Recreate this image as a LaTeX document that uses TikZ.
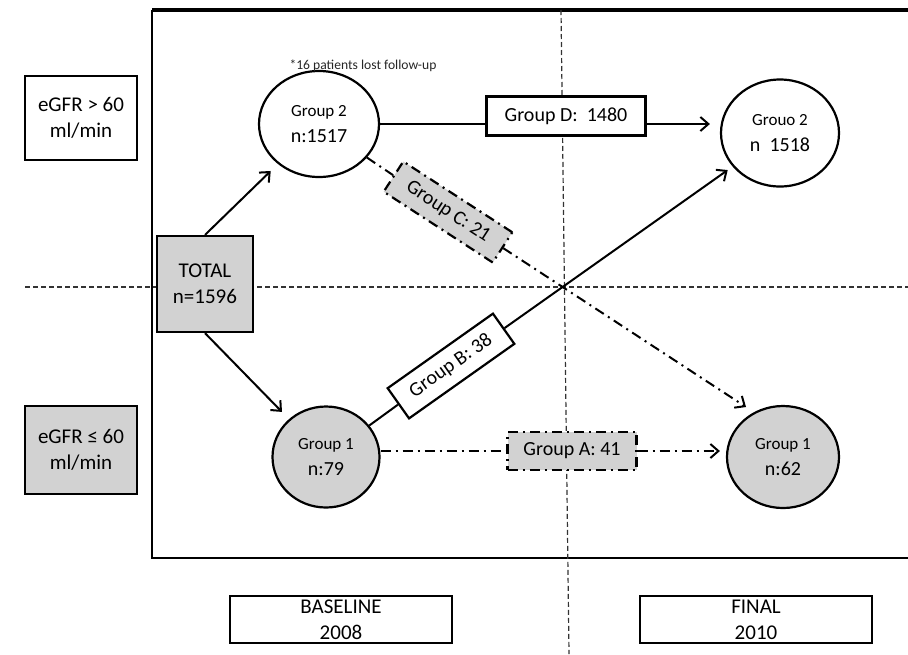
\documentclass[tikz,border=0pt]{standalone}
\usepackage{fontspec}
\setmainfont{Carlito}
\usetikzlibrary{positioning,arrows.meta,shapes.geometric}

\newcommand\grpname{\fontsize{8.5}{10}\selectfont}
\newcommand\grpcount{\fontsize{10}{12}\selectfont}

\tikzset{
  box/.style={draw, line width=1.1pt, align=center, inner sep=0pt, font=\fontsize{10.5}{13}\selectfont},
  flowbox/.style={box, font=\fontsize{10}{12}\selectfont},
  dashbox/.style={flowbox, fill=gray!35, dash pattern=on 5pt off 2.5pt on 1pt off 2.5pt},
  group/.style={draw, ellipse, line width=1.1pt, align=center, inner sep=0pt},
  link/.style={line width=1pt},
  dlink/.style={link, dash pattern=on 5pt off 2.5pt on 1pt off 2.5pt},
  guide/.style={line width=0.6pt, gray!40!black, dash pattern=on 2.5pt off 1.5pt},
}

\begin{document}
\begin{tikzpicture}[x=0.5pt, y=-0.5pt, >={Straight Barb[length=4pt,width=7pt]}]
    \useasboundingbox (0,0) rectangle (908,654);

    % Frame and guide lines
    \draw[line width=1.6pt] (908,10) -- (152,10);
    \draw[line width=1.2pt] (152,10) -- (152,558) -- (908,558);
    \draw[guide] (25,287) -- (908,287);
    \draw[guide] (561,10) -- (569,654);

    % Row and column labels
    \node[box, minimum width=56pt, minimum height=42pt] (high) at (81,118) {eGFR > 60\\ml/min};
    \node[box, fill=gray!35, minimum width=56pt, minimum height=44pt] (low) at (81,450) {eGFR ≤ 60\\ml/min};
    \node[box, minimum width=111pt, minimum height=23.5pt] (base) at (341,619.5) {BASELINE\\2008};
    \node[box, minimum width=116pt, minimum height=23.5pt] (final) at (756,619.5) {FINAL\\2010};

    % Groups
    \node[box, fill=gray!35, minimum width=48pt, minimum height=48pt] (total) at (205,284) {TOTAL\\n=1596};
    \node[group, minimum width=60pt, minimum height=53pt] (g2a) at (319,124)
        {{\grpname Group 2}\\[1pt]{\grpcount n:1517}};
    \node[group, minimum width=59pt, minimum height=53.5pt] (g2b) at (780,133)
        {{\grpname Grouo 2}\\[1pt]{\grpcount n\ \ 1518}};
    \node[group, fill=gray!35, minimum width=53.5pt, minimum height=50.5pt] (g1a) at (326,457)
        {{\grpname Group 1}\\[1pt]{\grpcount n:79}};
    \node[group, fill=gray!35, minimum width=56pt, minimum height=51pt] (g1b) at (783,457)
        {{\grpname Group 1}\\[1pt]{\grpcount n:62}};
    \node[font=\fontsize{6.8}{8}\selectfont, gray!30!black] (lost) at (363,66) {*16 patients lost follow-up};

    % Transitions
    \node[flowbox, fill=white, minimum width=79.5pt, minimum height=19.5pt] (grpD) at (566,116) {Group D:\ \ 1480};
    \node[flowbox, fill=white, minimum width=64.5pt, minimum height=18.5pt, rotate=35.3] (grpB) at (451,366) {Group B: 38};
    \node[dashbox, minimum width=65pt, minimum height=18pt, rotate=-33] (grpC) at (448,212) {Group C: 21};
    \node[dashbox, minimum width=64.5pt, minimum height=19pt] (grpA) at (572,451) {Group A: 41};
    \coordinate (cEnd) at (746,407);

    \draw[link, ->, shorten >=5pt] (total.north) -- (g2a);
    \draw[link, ->, shorten >=5pt] (total.south) -- (g1a);
    \draw[link] (g2a.east) -- (g2a.east -| grpD.west);
    \draw[link, ->, shorten >=5pt] (grpD.east |- g2a.east) -- (g2b.west |- g2a.east);
    \draw[link] (g1a) -- (grpB);
    \draw[link, ->, shorten >=3pt] (grpB) -- (g2b);
    \draw[dlink] (g2a.-35) -- (grpC);
    \draw[dlink, ->] (grpC) -- (cEnd);
    \draw[dlink] (g1a.east |- grpA) -- (grpA);
    \draw[dlink, ->, shorten >=3pt] (grpA) -- (g1b.west |- grpA);
\end{tikzpicture}
\end{document}
